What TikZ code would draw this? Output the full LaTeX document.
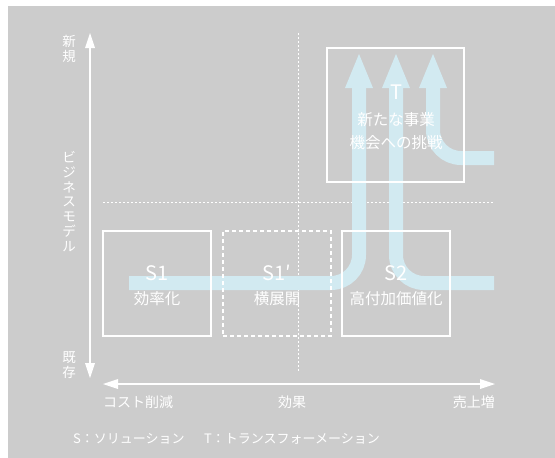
\documentclass[tikz,border=0pt]{standalone}
\usepackage{fontspec}
\setmainfont{Noto Sans CJK JP}
\usepackage{xcolor}
\usetikzlibrary{arrows.meta,positioning}
\definecolor{bggray}{RGB}{204,204,204}
\definecolor{bandblue}{RGB}{210,234,241}
\tikzstyle{solbox}  =[rectangle, draw=white, line width=1.1pt, inner sep=0pt,
                      minimum width=108pt, minimum height=105pt]
\tikzstyle{band}    =[draw=bandblue, line width=14pt, rounded corners=28pt,
                      -{Triangle[length=34pt,width=28pt,line width=0pt]}]
\tikzstyle{axis}    =[draw=white, line width=1.3pt,
                      {Triangle[length=15pt,width=10pt,line width=0pt]}-{Triangle[length=15pt,width=10pt,line width=0pt]}]
\tikzstyle{guide}   =[draw=white, line width=0.6pt, dash pattern=on 2pt off 2pt]
\tikzstyle{bigtxt}  =[text=white, font=\fontsize{20}{22}\selectfont]
\tikzstyle{smalltxt}=[text=white, font=\fontsize{15.5}{17}\selectfont]
\tikzstyle{axtxt}   =[text=white, font=\fontsize{14}{15}\selectfont, inner sep=0pt]
\tikzstyle{vtxt}    =[text=white, font=\fontsize{13.5}{14.8}\selectfont, align=center, inner sep=0pt]

\begin{document}
\begin{tikzpicture}[x=1pt, y=-1pt]

  % ── canvas ─────────────────────────────────────────────────────────────────
  \fill[white] (0,0) rectangle (555,458);
  \fill[bggray] (8,6) rectangle (555,458);
  \useasboundingbox (0,0) rectangle (555,458);

  % ── guides and axes ────────────────────────────────────────────────────────
  \coordinate (gtop)   at (298, 33);
  \coordinate (gbot)   at (298,372);
  \coordinate (gleft)  at (103,202);
  \coordinate (gright) at (494,202);
  \draw[guide] (gtop) -- (gbot);
  \draw[guide] (gleft) -- (gright);

  \coordinate (ytop)   at ( 90, 33);
  \coordinate (ybot)   at ( 90,378);
  \coordinate (xleft)  at (103,384);
  \coordinate (xright) at (495,384);
  \draw[axis] (ybot) -- (ytop);
  \draw[axis] (xleft) -- (xright);

  % ── blue flows ─────────────────────────────────────────────────────────────
  \coordinate (f1start) at (129,283);
  \coordinate (f1tip)   at (359,54);
  \coordinate (f2start) at (494,283);
  \coordinate (f2tip)   at (396,54);
  \coordinate (f3start) at (494,158);
  \coordinate (f3tip)   at (433,54);
  \draw[band] (f1start) -- (f1tip |- f1start) -- (f1tip);
  \draw[band] (f2start) -- (f2tip |- f2start) -- (f2tip);
  \draw[band] (f3start) -- (f3tip |- f3start) -- (f3tip);

  % ── boxes ──────────────────────────────────────────────────────────────────
  \node[solbox]                       (s1)  at (157,283.5) {};
  \node[solbox, dash pattern=on 4pt off 3pt] (s1p) at (277,283.5) {};
  \node[solbox]                       (s2)  at (396,283.5) {};
  \node[solbox, minimum width=137pt, minimum height=134pt] (tbox) at (395.5,115) {};

  % ── box texts ──────────────────────────────────────────────────────────────
  \node[bigtxt]   (s1name)  at (157,273) {S1};
  \node[smalltxt] (s1desc)  at (157,299) {効率化};
  \node[bigtxt]   (s1pname) at (277,273) {S1′};
  \node[smalltxt] (s1pdesc) at (277,299) {横展開};
  \node[bigtxt]   (s2name)  at (396,273) {S2};
  \node[smalltxt] (s2desc)  at (396,299) {高付加価値化};
  \node[bigtxt]   (tname)   at (396, 92) {T};
  \node[smalltxt] (tdesc1)  at (396,120) {新たな事業};
  \node[smalltxt] (tdesc2)  at (396,143) {機会への挑戦};

  % ── axis labels ────────────────────────────────────────────────────────────
  \node[vtxt]  (ynew)   at (69, 48.5) {新\\規};
  \node[vtxt]  (ymodel) at (69,201.5) {ビ\\ジ\\ネ\\ス\\モ\\デ\\ル};
  \node[vtxt]  (yold)   at (69,365)   {既\\存};
  \node[axtxt, anchor=west] (xcost)  at (103,402) {コスト削減};
  \node[axtxt]              (xeff)   at (292,402) {効果};
  \node[axtxt, anchor=east] (xsales) at (495,402) {売上増};

  % ── legend ─────────────────────────────────────────────────────────────────
  \node[axtxt, anchor=west, font=\fontsize{13}{14}\selectfont] (legend) at (73,439)
    {S：ソリューション\hspace{1.5em}T：トランスフォーメーション};

\end{tikzpicture}
\end{document}
